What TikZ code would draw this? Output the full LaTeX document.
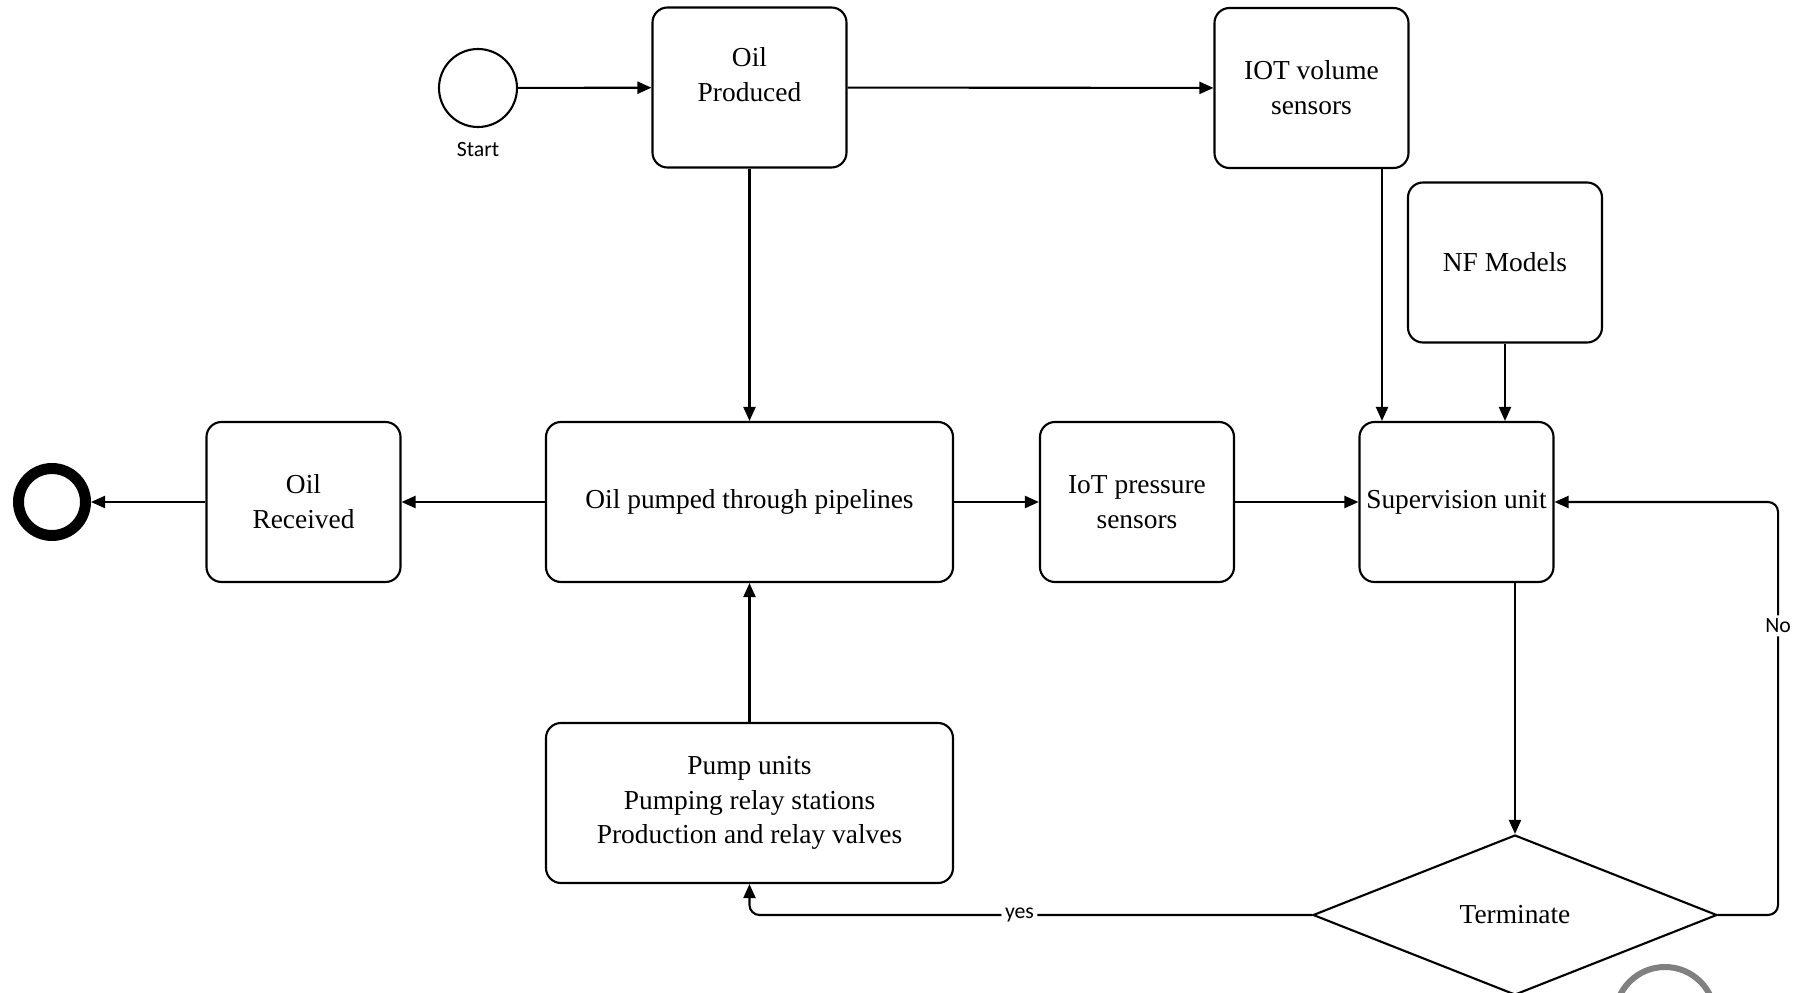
\documentclass[tikz,border=0pt]{standalone}
\usepackage{fontspec}
\setmainfont{Liberation Serif}
\newfontfamily\lblfont{Carlito}
\usetikzlibrary{arrows.meta,shapes.geometric,positioning}
\tikzset{
  box/.style={draw,rounded corners=0.15cm,align=center,inner sep=0pt,
    font=\fontsize{7.8}{9.9}\selectfont,minimum height=1.6cm},
  smallbox/.style={box,minimum width=1.94cm},
  widebox/.style={box,minimum width=4.07cm},
  lbl/.style={font=\lblfont\fontsize{6.2}{7}\selectfont,inner sep=1pt},
  arr/.style={-{Triangle[length=1.4mm,width=1.2mm]}},
}
\begin{document}
\begin{tikzpicture}[line width=0.6pt]
  \useasboundingbox (0,0) rectangle (18,-9.93);
  % events
  \node[draw,circle,minimum size=0.78cm] (start) at (4.78,-0.88) {};
  \node[lbl,below=0.1cm of start] (startlbl) {Start};
  \node[draw,circle,line width=0.11cm,minimum size=0.67cm,inner sep=0pt] (end) at (0.52,-5.02) {};
  \node[draw,circle,gray,line width=0.06cm,minimum size=1.0cm] (stop) at (16.65,-10.17) {};
  % tasks
  \node[smallbox] (prod) at (7.495,-0.875) {};
  \node[font=\fontsize{7.8}{9.9}\selectfont,align=center] (prodtxt) at ([yshift=0.13cm]prod.center) {Oil\\Produced};
  \node[smallbox] (vol) at (13.115,-0.88) {IOT volume\\sensors};
  \node[smallbox] (nf) at (15.05,-2.625) {NF Models};
  \node[widebox] (pumped) at (7.495,-5.02) {Oil pumped through pipelines};
  \node[smallbox] (recv) at (3.035,-5.02) {Oil\\Received};
  \node[smallbox] (press) at (11.37,-5.02) {IoT pressure\\sensors};
  \node[smallbox] (sup) at (14.565,-5.02) {Supervision unit};
  \node[widebox] (pump) at (7.495,-8.03) {Pump units\\Pumping relay stations\\Production and relay valves};
  \node[draw,diamond,minimum width=4.04cm,minimum height=1.6cm,inner sep=0pt,
    font=\fontsize{7.8}{9.9}\selectfont] (term) at (15.15,-9.15) {Terminate};
  % flows
  \draw[arr] (start) -- (prod);
  \draw[arr] (prod) -- (vol);
  \draw[arr] (prod) -- (pumped);
  \draw[arr] (pumped) -- (recv);
  \draw[arr] (recv) -- (end);
  \draw[arr] (pumped) -- (press);
  \draw[arr] (press) -- (sup);
  \draw[arr] (pump) -- (pumped);
  \draw[arr] ([xshift=0.705cm]vol.south) -- ([xshift=0.705cm]vol.south |- sup.north);
  \draw[arr] (nf) -- (nf |- sup.north);
  \draw[arr] (term.north |- sup.south) -- (term.north);
  \draw[arr,rounded corners=0.1cm] (term.west) -| node[lbl,fill=white,pos=0.26] (yes) {yes} (pump.south);
  \draw[arr,rounded corners=0.1cm] (term.east) -- ++(0.6,0) |- node[lbl,fill=white,pos=0.35] (no) {No} (sup.east);
\end{tikzpicture}
\end{document}
